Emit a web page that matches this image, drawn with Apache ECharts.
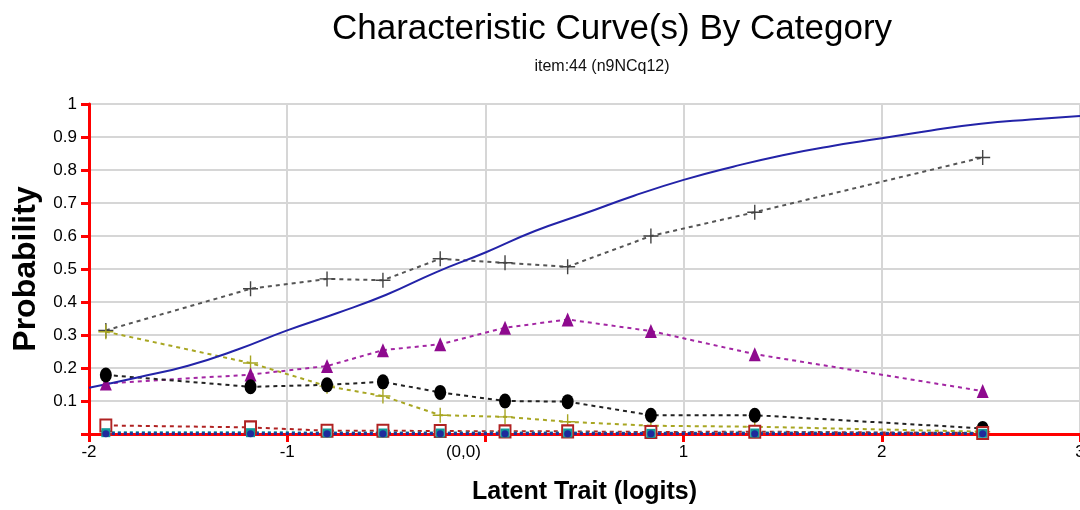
<!DOCTYPE html>
<html>
<head>
<meta charset="utf-8">
<title>Characteristic Curve(s) By Category</title>
<script src="https://cdn.jsdelivr.net/npm/echarts@6/dist/echarts.min.js"></script>
<style>
    html, body { margin: 0; padding: 0; background: #fff; }
    #chart { width: 1080px; height: 510px; }
</style>
</head>
<body>
<div id="chart"></div>
<script>
    // observed points (logits) for each category
    var pointX = [-1.915, -1.185, -0.799, -0.517, -0.228, 0.099, 0.415, 0.835, 1.359, 2.509];
    var grayCat = [0.314, 0.44, 0.47, 0.466, 0.531, 0.519, 0.507, 0.6, 0.672, 0.838];
    var oliveCat = [0.31, 0.215, 0.145, 0.115, 0.057, 0.052, 0.037, 0.025, 0.022, 0.007];
    var purpleCat = [0.153, 0.18, 0.206, 0.254, 0.272, 0.322, 0.347, 0.312, 0.242, 0.13];
    var blackCat = [0.179, 0.143, 0.149, 0.158, 0.126, 0.1, 0.098, 0.057, 0.057, 0.017];
    var redCat = [0.026, 0.02, 0.01, 0.01, 0.009, 0.008, 0.008, 0.006, 0.007, 0.003];
    var tealCat = [0.004, 0.004, 0.003, 0.003, 0.003, 0.003, 0.003, 0.002, 0.003, 0.002];
    var blueCat = [0.001, 0.001, 0.001, 0.001, 0.001, 0.001, 0.001, 0.001, 0.001, 0.001];

    // expected curve
    var curveX = [-2, -1.75, -1.5, -1.25, -1, -0.75, -0.5, -0.25, 0, 0.25, 0.5, 0.75, 1, 1.25, 1.5, 1.75, 2, 2.25, 2.5, 2.75, 3];
    var curveY = [0.14, 0.172, 0.207, 0.256, 0.314, 0.366, 0.422, 0.49, 0.55, 0.615, 0.668, 0.722, 0.77, 0.81, 0.845, 0.873, 0.896, 0.92, 0.94, 0.953, 0.964];

    var plusPath = 'path://M7.25,0h1.5v7.25h7.25v1.5h-7.25v7.25h-1.5v-7.25h-7.25v-1.5h7.25z';

    function pairs(xs, ys) {
        var out = [];
        for (var i = 0; i < xs.length; i++) {
            out.push([xs[i], ys[i]]);
        }
        return out;
    }

    function catSeries(name, ys, color, symbol, size, dash, width, markColor) {
        return {
            name: name,
            type: 'line',
            data: pairs(pointX, ys),
            symbol: symbol,
            symbolSize: size,
            showAllSymbol: true,
            lineStyle: { color: color, width: width || 2, type: dash || [4, 4] },
            itemStyle: { color: markColor || color },
            emphasis: { disabled: true }
        };
    }

    var myChart = echarts.init(document.getElementById('chart'));

    var series = [
        catSeries('cat1', grayCat, '#555555', plusPath, 15, null, 2, '#444444'),
        catSeries('cat2', oliveCat, '#a8a622', plusPath, 15),
        catSeries('cat3', purpleCat, '#a326a3', 'triangle', [12, 14], null, 2, '#8e0a8e'),
        catSeries('cat4', blackCat, '#222222', 'circle', [12, 15], null, 2, '#000000'),
        catSeries('cat5', redCat, '#b02222', 'emptyRect', [11, 12]),
        catSeries('cat6', tealCat, '#109a9a', 'rect', 9, [3, 3], 3),
        catSeries('cat7', blueCat, '#1f2a9c', 'circle', 7, [3, 3], 3),
        {
            name: 'expected',
            type: 'line',
            data: pairs(curveX, curveY),
            smooth: true,
            symbol: 'none',
            lineStyle: { color: '#2323a8', width: 2 },
            z: 3
        }
    ];

    myChart.setOption({
        animation: false,
        backgroundColor: '#ffffff',
        title: [{
            text: 'Characteristic Curve(s) By Category',
            left: 607,
            top: 7,
            textAlign: 'center',
            textStyle: {
                fontFamily: 'Liberation Sans',
                fontSize: 35,
                fontWeight: 'normal',
                color: '#000'
            }
        }, {
            text: 'item:44 (n9NCq12)',
            left: 597,
            top: 54,
            textAlign: 'center',
            textStyle: {
                fontFamily: 'Liberation Sans',
                fontSize: 16,
                fontWeight: 'normal',
                color: '#111'
            }
        }],
        grid: { left: 89, right: 0, top: 104, bottom: 76, containLabel: false, outerBoundsMode: 'none' },
        xAxis: {
            type: 'value',
            min: -2,
            max: 3,
            interval: 1,
            name: 'Latent Trait (logits)',
            nameLocation: 'middle',
            nameGap: 46,
            nameTextStyle: { fontFamily: 'Liberation Sans', fontSize: 25, fontWeight: 'bold', color: '#000' },
            axisLine: { onZero: false, lineStyle: { color: '#ff0000', width: 3 } },
            axisTick: { show: true, length: 8, lineStyle: { color: '#ff0000', width: 3 } },
            axisLabel: {
                margin: 10,
                fontFamily: 'Liberation Sans',
                fontSize: 17,
                color: '#000',
                formatter: function (v) {
                    return v === 0 ? '{o|(0,0)}' : String(v);
                },
                rich: { o: { fontFamily: 'Liberation Sans', fontSize: 17, color: '#000', padding: [0, 44, 0, 0] } }
            },
            splitLine: { show: true, lineStyle: { color: '#d6d6d6', width: 2 } }
        },
        yAxis: {
            type: 'value',
            min: 0,
            max: 1,
            interval: 0.1,
            name: 'Probability',
            nameLocation: 'middle',
            nameGap: 42,
            nameTextStyle: { fontFamily: 'Liberation Sans', fontSize: 32, fontWeight: 'bold', color: '#000' },
            axisLine: { show: true, onZero: false, lineStyle: { color: '#ff0000', width: 3 } },
            axisTick: { show: true, length: 8, lineStyle: { color: '#ff0000', width: 3 } },
            axisLabel: {
                margin: 12,
                fontFamily: 'Liberation Sans',
                fontSize: 17,
                color: '#000',
                formatter: function (v) {
                    return v === 0 ? '' : String(+v.toFixed(1));
                }
            },
            splitLine: { show: true, lineStyle: { color: '#d6d6d6', width: 2 } }
        },
        series: series
    });
</script>
</body>
</html>
